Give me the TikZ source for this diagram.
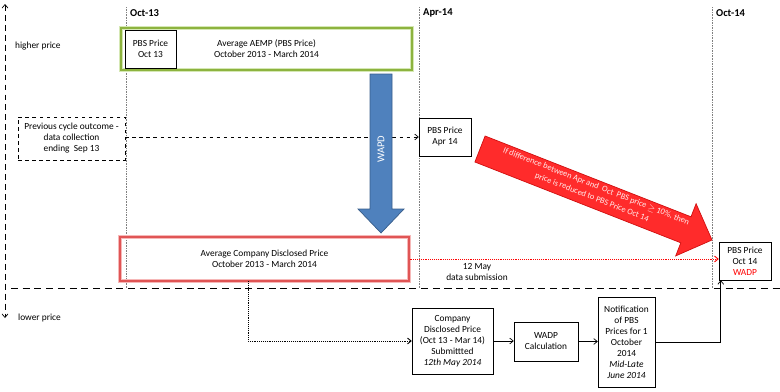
\documentclass[tikz,border=0pt]{standalone}
\usepackage{fontspec}
\setmainfont{Carlito}
\usetikzlibrary{arrows.meta, positioning, calc}

\definecolor{aemp}{HTML}{8DB33F}
\definecolor{aempglow}{HTML}{D5E8B4}
\definecolor{acdp}{HTML}{E05555}
\definecolor{acdpglow}{HTML}{F6B8B8}
\definecolor{wapd}{HTML}{4F81BD}
\definecolor{wapdedge}{HTML}{385D8A}
\definecolor{rule}{HTML}{FF2B2B}
\definecolor{ruleedge}{HTML}{D01010}

\begin{document}
\begin{tikzpicture}[x=0.03cm, y=-0.03cm, font=\fontsize{8}{9.4}\selectfont]

  \tikzset{
    pricebox/.style={draw, thin, fill=white, align=center, inner sep=1pt},
    glowbox/.style={draw=#1, line width=1pt, align=center,
      preaction={draw=#1glow, line width=3.5pt}},
    monthline/.style={gray, densely dotted, thin},
    monthlabel/.style={anchor=west, font=\fontsize{9}{10}\selectfont\bfseries},
    flow/.style={-{Straight Barb[length=3pt,width=5pt]}, semithick},
    bigarrow/.style={draw=#1edge, fill=#1, line width=0.6pt}
  }

  \useasboundingbox (0,0) rectangle (780,392);

  % price axis and split line
  \draw[{Straight Barb[length=3pt,width=5pt]}-{Straight Barb[length=3pt,width=5pt]},
    semithick, dash pattern=on 5pt off 3.5pt] (5,4) -- (5,318);
  \node[anchor=west] (hi) at (11,46) {higher price};
  \node[anchor=west] (lo) at (14,318) {lower price};
  \draw[semithick, dash pattern=on 6pt off 4pt] (11,288) -- (780,288);

  % months
  \foreach \mx/\mname in {126/Oct-13, 419/Apr-14, 712/Oct-14} {
    \draw[monthline] (\mx,7) -- (\mx,288);
    \node[monthlabel] at (\mx,13) {\mname};
  }

  % upper band
  \node[glowbox=aemp, minimum width=8.73cm, minimum height=1.26cm] (aemp)
    at (266.5,49) {Average AEMP (PBS Price)\\October 2013 - March 2014};
  \node[pricebox, minimum width=1.53cm, minimum height=1.14cm] (oct13)
    at (150.5,49) {PBS Price\\Oct 13};

  \node[pricebox, dashed, semithick, minimum width=3.21cm, minimum height=1.29cm]
    (prev) at (71.5,138.5) {Previous cycle outcome -\\data collection\\ending\ \ Sep 13};
  \node[pricebox, minimum width=1.56cm, minimum height=1.14cm] (apr14)
    at (445,137) {PBS Price\\Apr 14};
  \draw[flow, dashed] (prev.east |- apr14.west) -- (apr14.west);

  % WAPD arrow
  \draw[bigarrow=wapd] (370,74) -- (392,74) -- (392,209) -- (404,209)
    -- (381,233) -- (358,209) -- (370,209) -- cycle;
  \node[white, rotate=90, font=\fontsize{9}{10}\selectfont] (wapdtext)
    at (381,149) {WAPD};

  % rule arrow
  \draw[bigarrow=rule] (485.1,136) -- (691,216.8) -- (696.1,203.7) -- (712,240)
    -- (675.7,255.9) -- (680.8,242.8) -- (474.9,162) -- cycle;
  \node[white!92!red, rotate=-21.4, align=center, inner sep=0pt,
    font=\fontsize{7.2}{10}\selectfont] (ruletext) at (594,192)
    {If difference between Apr and\ \ Oct\ \ PBS price $\geq$ 10\%, then\\
     price is reduced to PBS Price Oct 14};

  % lower band
  \node[glowbox=acdp, minimum width=8.67cm, minimum height=1.32cm] (acdp)
    at (264.5,259) {Average Company Disclosed Price\\October 2013 - March 2014};
  \node[pricebox, minimum width=1.56cm, minimum height=1.14cm] (oct14)
    at (745,261) {PBS Price\\Oct 14\\\textcolor{red}{WADP}};
  \draw[flow, red, densely dotted, thick] (acdp.east) -- (acdp.east -| oct14.west);
  \node[align=center] (may) at (477,272) {12 May\\data submission};

  % submission process
  \node[pricebox, minimum width=2.43cm, minimum height=1.98cm] (company)
    at (452.5,341) {Company\\Disclosed Price\\(Oct 13 - Mar 14)\\Submittted\\\textit{12th May 2014}};
  \node[pricebox, minimum width=1.92cm, minimum height=1.17cm] (wadp)
    at (546,341.5) {WADP\\Calculation};
  \node[pricebox, minimum width=1.71cm, minimum height=2.7cm] (notif)
    at (626.5,342) {Notification\\of PBS\\Prices for 1\\October\\2014\\\textit{Mid-Late}\\\textit{June 2014}};

  \coordinate (drop) at (248,281);
  \draw[flow, densely dotted, thick] (drop) |- (company.west);
  \draw[flow] (company.east) -- (company.east -| wadp.west);
  \draw[flow] (wadp.east) -- (wadp.east -| notif.west);
  \draw[flow] (notif.east) -| ($(oct14.south west)+(2,0)$);

\end{tikzpicture}
\end{document}
